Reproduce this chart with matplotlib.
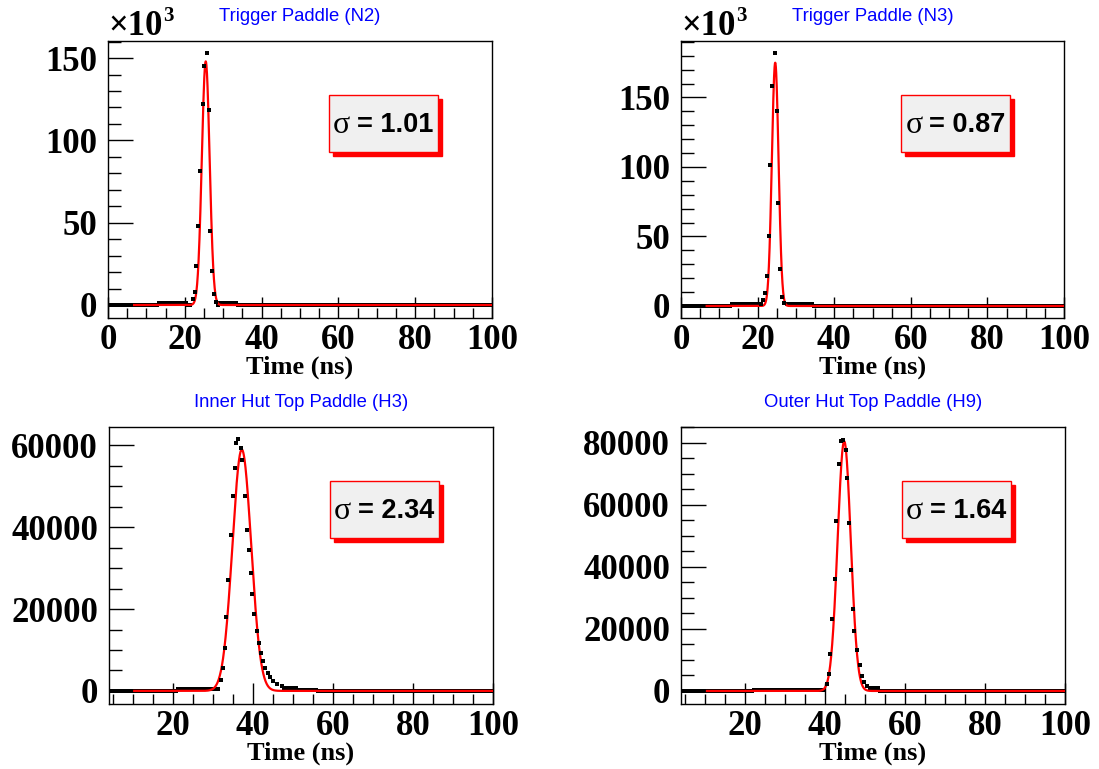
import numpy as np
import matplotlib
matplotlib.use("Agg")
import matplotlib.pyplot as plt
from matplotlib.patches import Rectangle
from matplotlib.ticker import MultipleLocator, FuncFormatter
import matplotlib.transforms as mtransforms

W, H = 1099, 769

# --- data -----------------------------------------------------------------
titles = ["Trigger Paddle (N2)", "Trigger Paddle (N3)",
          "Inner Hut Top Paddle (H3)", "Outer Hut Top Paddle (H9)"]
sigmas = [1.01, 0.87, 2.34, 1.64]
fit_means = [25.45, 24.6, 37.2, 44.8]
fit_amps = [148000, 175000, 59000, 80500]
fit_start = [6.8, 6.7, 10.3, 10.5]

# peak bins (time in ns, counts)
n2_t = [22.05, 22.6, 22.9, 23.35, 23.96, 24.65, 25.1, 25.7, 26.2, 26.6, 27.1, 27.7, 28.1]
n2_y = [3400, 8100, 23700, 48200, 81600, 121900, 145400, 152900, 118300, 45100, 20700, 6500, 2000]

n3_t = [20.9, 21.4, 22.0, 22.37, 22.89, 23.24, 23.76, 24.54, 24.98, 25.33, 25.85, 26.37, 26.98]
n3_y = [1500, 4300, 9400, 21800, 50500, 101400, 158100, 181700, 140600, 74000, 26400, 6500, 2200]

h3_t = [31.9, 32.4, 33.0, 33.25, 33.8, 34.5, 35.0, 35.4, 35.75, 36.3, 37.1, 37.3, 38.0, 38.6,
        39.1, 39.4, 39.8, 40.3, 41.0, 41.5, 42.1, 42.6, 43.1, 43.7, 44.25, 45.1, 45.9, 47.2]
h3_y = [2700, 5500, 10400, 18100, 27100, 38100, 47600, 54500, 60600, 61500, 59400, 56500, 47600, 39400,
        34400, 28900, 23600, 18900, 14700, 11800, 9200, 7400, 5500, 4300, 3300, 2400, 1700, 1200]

h9_t = [40.5, 40.9, 41.3, 41.8, 42.4, 42.8, 43.4, 44.0, 44.4, 45.2, 45.5, 46.0, 46.5, 46.9,
        47.3, 48.0, 48.75, 49.25, 49.8, 50.5]
h9_y = [2200, 5400, 11800, 23100, 36100, 54800, 73300, 80600, 81000, 77600, 68500, 54100, 39100, 26300,
        19300, 13200, 8400, 4900, 2800, 1700]

peak_t = [n2_t, n3_t, h3_t, h9_t]
peak_y = [n2_y, n3_y, h3_y, h9_y]

# small flat shoulders near the peaks: (from ns, to ns, counts)
shoulders = [
    [(13.0, 20.5, 1500), (29.0, 33.5, 1100)],
    [(12.8, 20.5, 1300), (27.5, 34.5, 1300)],
    [(21.0, 31.5, 550), (47.5, 51.0, 700), (51.0, 56.0, 300)],
    [(22.0, 40.0, 400), (50.5, 53.5, 1000)],
]

# axis ranges and ticks
x_lo = [0, 0, 4, 4]
y_scale = [1000, 1000, 1, 1]
y_lims = [(-7.9, 160.4), (-8.65, 190.6), (-3200, 64500), (-4200, 85100)]
y_major = [50, 50, 20000, 20000]
y_minor = [10, 10, 5000, 5000]

# axes boxes in pixels (left, top, right, bottom)
boxes = [(108, 41, 492, 318), (681, 41, 1064, 318),
         (109, 427, 493, 704), (681, 427, 1065, 704)]

bin_w = 0.5
serif_b = dict(family="Liberation Serif", weight="bold")

fig = plt.figure(figsize=(W / 100, H / 100), dpi=100)
fig.patch.set_facecolor("white")

for i in range(4):
    l, t, r, b = boxes[i]
    ax = fig.add_axes([l / W, 1 - b / H, (r - l) / W, (b - t) / H])
    sc = y_scale[i]

    # baseline bins (zero) plus shoulders, skipping the peak region
    centers = np.arange(bin_w / 2, 100, bin_w)
    counts = np.zeros_like(centers)
    for lo, hi, lev in shoulders[i]:
        counts[(centers >= lo) & (centers < hi)] = lev
    keep = (centers < min(peak_t[i]) - 0.3) | (centers > max(peak_t[i]) + 0.3)
    keep &= centers >= x_lo[i]
    ax.plot(centers[keep], counts[keep] / sc, ls="none", marker="s", ms=2.8,
            mew=0, color="black", zorder=2, clip_on=True)

    # gaussian fit
    tf = np.linspace(fit_start[i], 100, 2000)
    yf = fit_amps[i] * np.exp(-0.5 * ((tf - fit_means[i]) / sigmas[i]) ** 2)
    ax.plot(tf, yf / sc, color="red", lw=1.6, zorder=3)

    # peak bins
    ax.plot(np.array(peak_t[i]), np.array(peak_y[i]) / sc, ls="none", marker="s",
            ms=2.8, mew=0, color="black", zorder=4)

    ax.set_xlim(x_lo[i], 100)
    ax.set_ylim(*y_lims[i])

    ax.xaxis.set_major_locator(MultipleLocator(20))
    ax.xaxis.set_minor_locator(MultipleLocator(5))
    ax.yaxis.set_major_locator(MultipleLocator(y_major[i]))
    ax.yaxis.set_minor_locator(MultipleLocator(y_minor[i]))
    ax.yaxis.set_major_formatter(FuncFormatter(lambda v, p: f"{v:.0f}"))
    ax.xaxis.set_major_formatter(FuncFormatter(lambda v, p: f"{v:.0f}"))

    ax.tick_params(axis="y", which="major", direction="in", length=18, width=1,
                   pad=8, labelsize=25, right=False)
    ax.tick_params(axis="y", which="minor", direction="in", length=9, width=1, right=False)
    ax.tick_params(axis="x", which="major", direction="in", length=15, width=1,
                   pad=4, labelsize=25, top=False)
    ax.tick_params(axis="x", which="minor", direction="in", length=7, width=1, top=False)
    for lab in ax.get_xticklabels() + ax.get_yticklabels():
        lab.set_fontfamily("Liberation Serif")
        lab.set_fontweight("bold")
    for sp in ax.spines.values():
        sp.set_linewidth(1)

    ax.set_xlabel("Time (ns)", fontsize=19, **serif_b)
    ax.xaxis.set_label_coords(0.5, -0.135)

    # title
    ax.text(0.5, 1.09, titles[i], transform=ax.transAxes, ha="center", va="center",
            fontsize=13.3, family="Liberation Sans", color="#0000ff")

    # x10^3 multiplier
    if sc == 1000:
        ax.text(0.0, 1.022, "\u00d710", transform=ax.transAxes, ha="left",
                va="baseline", fontsize=25, **serif_b)
        ax.text(0.143, 1.072, "3", transform=ax.transAxes, ha="left",
                va="baseline", fontsize=15, **serif_b)

    # sigma box with shadow
    shadow_tr = mtransforms.offset_copy(ax.transAxes, fig=fig, x=4, y=-4, units="dots")
    ax.add_patch(Rectangle((0.575, 0.60), 0.285, 0.205, transform=shadow_tr,
                           facecolor="red", edgecolor="red", lw=1, zorder=5, clip_on=False))
    ax.add_patch(Rectangle((0.575, 0.60), 0.285, 0.205, transform=ax.transAxes,
                           facecolor="#f0f0f0", edgecolor="red", lw=1, zorder=6, clip_on=False))
    ax.text(0.586, 0.695, "\u03c3", transform=ax.transAxes, ha="left", va="center",
            fontsize=23, family="Liberation Serif", zorder=7)
    ax.text(0.648, 0.695, f"= {sigmas[i]:.2f}", transform=ax.transAxes, ha="left",
            va="center", fontsize=19.5, family="Liberation Sans", weight="bold", zorder=7)

fig.savefig("out.png", dpi=100, facecolor="white")
